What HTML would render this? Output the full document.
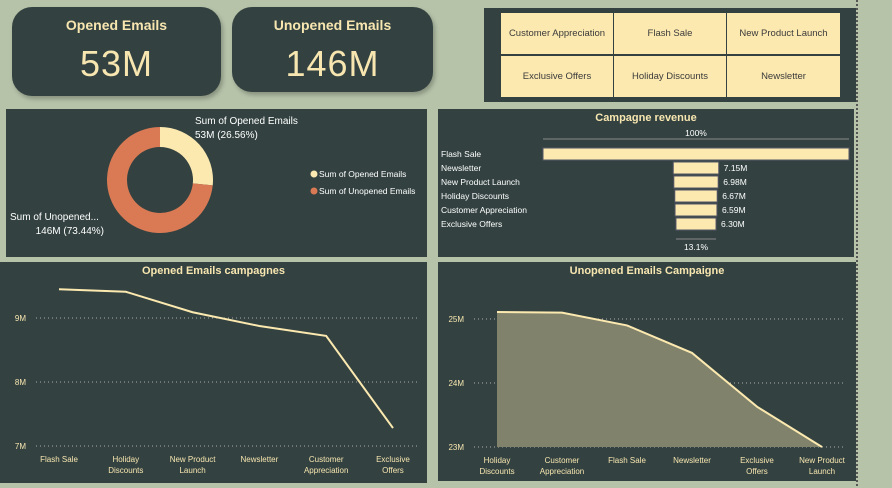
<!DOCTYPE html>
<html><head><meta charset="utf-8"><style>
body{margin:0;width:892px;height:486px;background:#b6c3a9;font-family:"Liberation Sans",sans-serif;overflow:hidden;position:relative}
.p{position:absolute;background:#334241}
.kpi{border-radius:20px;box-shadow:2px 3px 4px rgba(0,0,0,.25);color:#f8e6b0;text-align:center}
.kpi .t{font-weight:bold;font-size:14px;margin-top:10px}
.kpi .v{font-size:36px;margin-top:10px;letter-spacing:1px}
.btn{position:absolute;background:#fce9b0;color:#3a3a3a;font-size:9.5px;display:flex;align-items:center;justify-content:center}
svg text{font-family:"Liberation Sans",sans-serif}
</style></head><body>
<div style="position:absolute;left:856px;top:0;width:0;height:486px;border-left:2px dotted #555"></div>
<div class="p kpi" style="left:12px;top:7px;width:209px;height:89px"><div class="t">Opened Emails</div><div class="v">53M</div></div>
<div class="p kpi" style="left:232px;top:7px;width:201px;height:85px"><div class="t">Unopened Emails</div><div class="v">146M</div></div>
<div class="p" style="left:484px;top:8px;width:372px;height:94px">
<div class="btn" style="left:17px;top:5px;width:112px;height:41px">Customer Appreciation</div>
<div class="btn" style="left:130px;top:5px;width:112px;height:41px">Flash Sale</div>
<div class="btn" style="left:243px;top:5px;width:113px;height:41px">New Product Launch</div>
<div class="btn" style="left:17px;top:48px;width:112px;height:41px">Exclusive Offers</div>
<div class="btn" style="left:130px;top:48px;width:112px;height:41px">Holiday Discounts</div>
<div class="btn" style="left:243px;top:48px;width:113px;height:41px">Newsletter</div>
</div>
<div class="p" style="left:6px;top:109px;width:421px;height:148px"><svg id="donut" width="421" height="148"></svg></div>
<div class="p" style="left:438px;top:109px;width:416px;height:148px"><svg id="funnel" width="416" height="148"></svg></div>
<div class="p" style="left:0;top:262px;width:427px;height:221px"><svg id="line1" width="427" height="221"></svg></div>
<div class="p" style="left:438px;top:262px;width:418px;height:219px"><svg id="line2" width="418" height="219"></svg></div>
<script>
const donutLabels=["Sum of Opened Emails","Sum of Unopened Emails"];
const donutValues=[53,146];
const donutText=["53M (26.56%)","146M (73.44%)"];
const funnelCats=["Flash Sale","Newsletter","New Product Launch","Holiday Discounts","Customer Appreciation","Exclusive Offers"];
const funnelValues=[48.1,7.15,6.98,6.67,6.59,6.30];
const funnelText=["","7.15M","6.98M","6.67M","6.59M","6.30M"];
const openCats=["Flash Sale","Holiday|Discounts","New Product|Launch","Newsletter","Customer|Appreciation","Exclusive|Offers"];
const openValues=[9.45,9.41,9.09,8.875,8.72,7.28];
const openTicks=[7,8,9];
const unCats=["Holiday|Discounts","Customer|Appreciation","Flash Sale","Newsletter","Exclusive|Offers","New Product|Launch"];
const unValues=[25.11,25.1,24.9,24.47,23.63,23.0];
const unTicks=[23,24,25];
const NS="http://www.w3.org/2000/svg";
const C="#f8e6b0";
function mk(svg,tag,a,txt){const e=document.createElementNS(NS,tag);for(const k in a)e.setAttribute(k,a[k]);if(txt!==undefined)e.textContent=txt;svg.appendChild(e);return e;}
// donut
(function(){const s=document.getElementById('donut');const cx=154,cy=71,R=53,r=33;const tot=donutValues.reduce((a,b)=>a+b,0);const cols=["#fce9b0","#d97a55"];let a0=-Math.PI/2;
donutValues.forEach((v,i)=>{const a1=a0+v/tot*2*Math.PI;const lg=(a1-a0)>Math.PI?1:0;
const p=`M${cx+R*Math.cos(a0)},${cy+R*Math.sin(a0)}A${R},${R} 0 ${lg} 1 ${cx+R*Math.cos(a1)},${cy+R*Math.sin(a1)}L${cx+r*Math.cos(a1)},${cy+r*Math.sin(a1)}A${r},${r} 0 ${lg} 0 ${cx+r*Math.cos(a0)},${cy+r*Math.sin(a0)}Z`;
const e=mk(s,'path',{d:p,fill:cols[i]});a0=a1;});
let t=mk(s,'text',{x:189,y:15,fill:'#fff','font-size':10},donutLabels[0]);
t=mk(s,'text',{x:189,y:29,fill:'#fff','font-size':10},donutText[0]);
t=mk(s,'text',{x:4,y:111,fill:'#fff','font-size':10},"Sum of Unopened...");
t=mk(s,'text',{x:98,y:125,fill:'#fff','font-size':10,'text-anchor':'end'},donutText[1]);
donutLabels.forEach((l,i)=>{const c=mk(s,'circle',{cx:308,cy:65+i*17,r:3.5,fill:cols[i]});
const tt=mk(s,'text',{x:313,y:68+i*17,fill:'#fff','font-size':8.5},l);});})();
// funnel
(function(){const s=document.getElementById('funnel');let t=mk(s,'text',{x:208,y:12,fill:C,'font-size':11,'font-weight':'bold','text-anchor':'middle'},"Campagne revenue");
const cx=258,W=306,max=funnelValues[0];
mk(s,'line',{x1:cx-W/2,x2:cx+W/2,y1:30,y2:30,stroke:'#888'});
t=mk(s,'text',{x:cx,y:27,fill:'#fff','font-size':8.5,'text-anchor':'middle'},"100%");
funnelCats.forEach((c,i)=>{const w=funnelValues[i]/max*W,y=39+i*14;
const b=mk(s,'rect',{x:cx-w/2,y:y,width:w,height:12,fill:'#fce9b0',stroke:'#556'});
const l=mk(s,'text',{x:3,y:y+9,fill:'#fff','font-size':8.5},c);
if(funnelText[i]){const v=mk(s,'text',{x:cx+w/2+5,y:y+9,fill:'#fff','font-size':8.5},funnelText[i]);}});
const lw=funnelValues[funnelValues.length-1]/max*W;mk(s,'line',{x1:cx-lw/2,x2:cx+lw/2,y1:130,y2:130,stroke:'#888'});
t=mk(s,'text',{x:cx,y:141,fill:'#fff','font-size':8.5,'text-anchor':'middle'},(funnelValues[5]/max*100).toFixed(1)+"%");})();
// lines
function lineChart(id,title,cats,vals,ticks,x0,dx,y0,ppu,base,area){const s=document.getElementById(id);const W=+s.getAttribute('width');
let t=mk(s,'text',{x:W/2,y:12,fill:C,'font-size':11,'font-weight':'bold','text-anchor':'middle'},title);
const Y=v=>y0-(v-base)*ppu, X=i=>x0+i*dx;
ticks.forEach(v=>{mk(s,'line',{x1:36,x2:W-10,y1:Y(v),y2:Y(v),stroke:'#aaa','stroke-dasharray':'1,3'});const l=mk(s,'text',{x:26,y:Y(v)+3,fill:C,'font-size':8,'text-anchor':'end'},v+'M');});
const pts=vals.map((v,i)=>X(i)+','+Y(v)).join(' ');
if(area){const a=mk(s,'polygon',{points:X(0)+','+Y(base)+' '+pts+' '+X(vals.length-1)+','+Y(base),fill:'#80826b'});}
const pl=mk(s,'polyline',{points:pts,fill:'none',stroke:'#fce9b0','stroke-width':2});
cats.forEach((c,i)=>{c.split('|').forEach((p,j)=>{const l=mk(s,'text',{x:X(i),y:y0+16+j*11,fill:C,'font-size':8,'text-anchor':'middle'},p);});});}
lineChart('line1',"Opened Emails campagnes",openCats,openValues,openTicks,59,66.8,184,64,7,false);
lineChart('line2',"Unopened Emails Campaigne",unCats,unValues,unTicks,59,65,185,64,23,true);
</script>
</body></html>
